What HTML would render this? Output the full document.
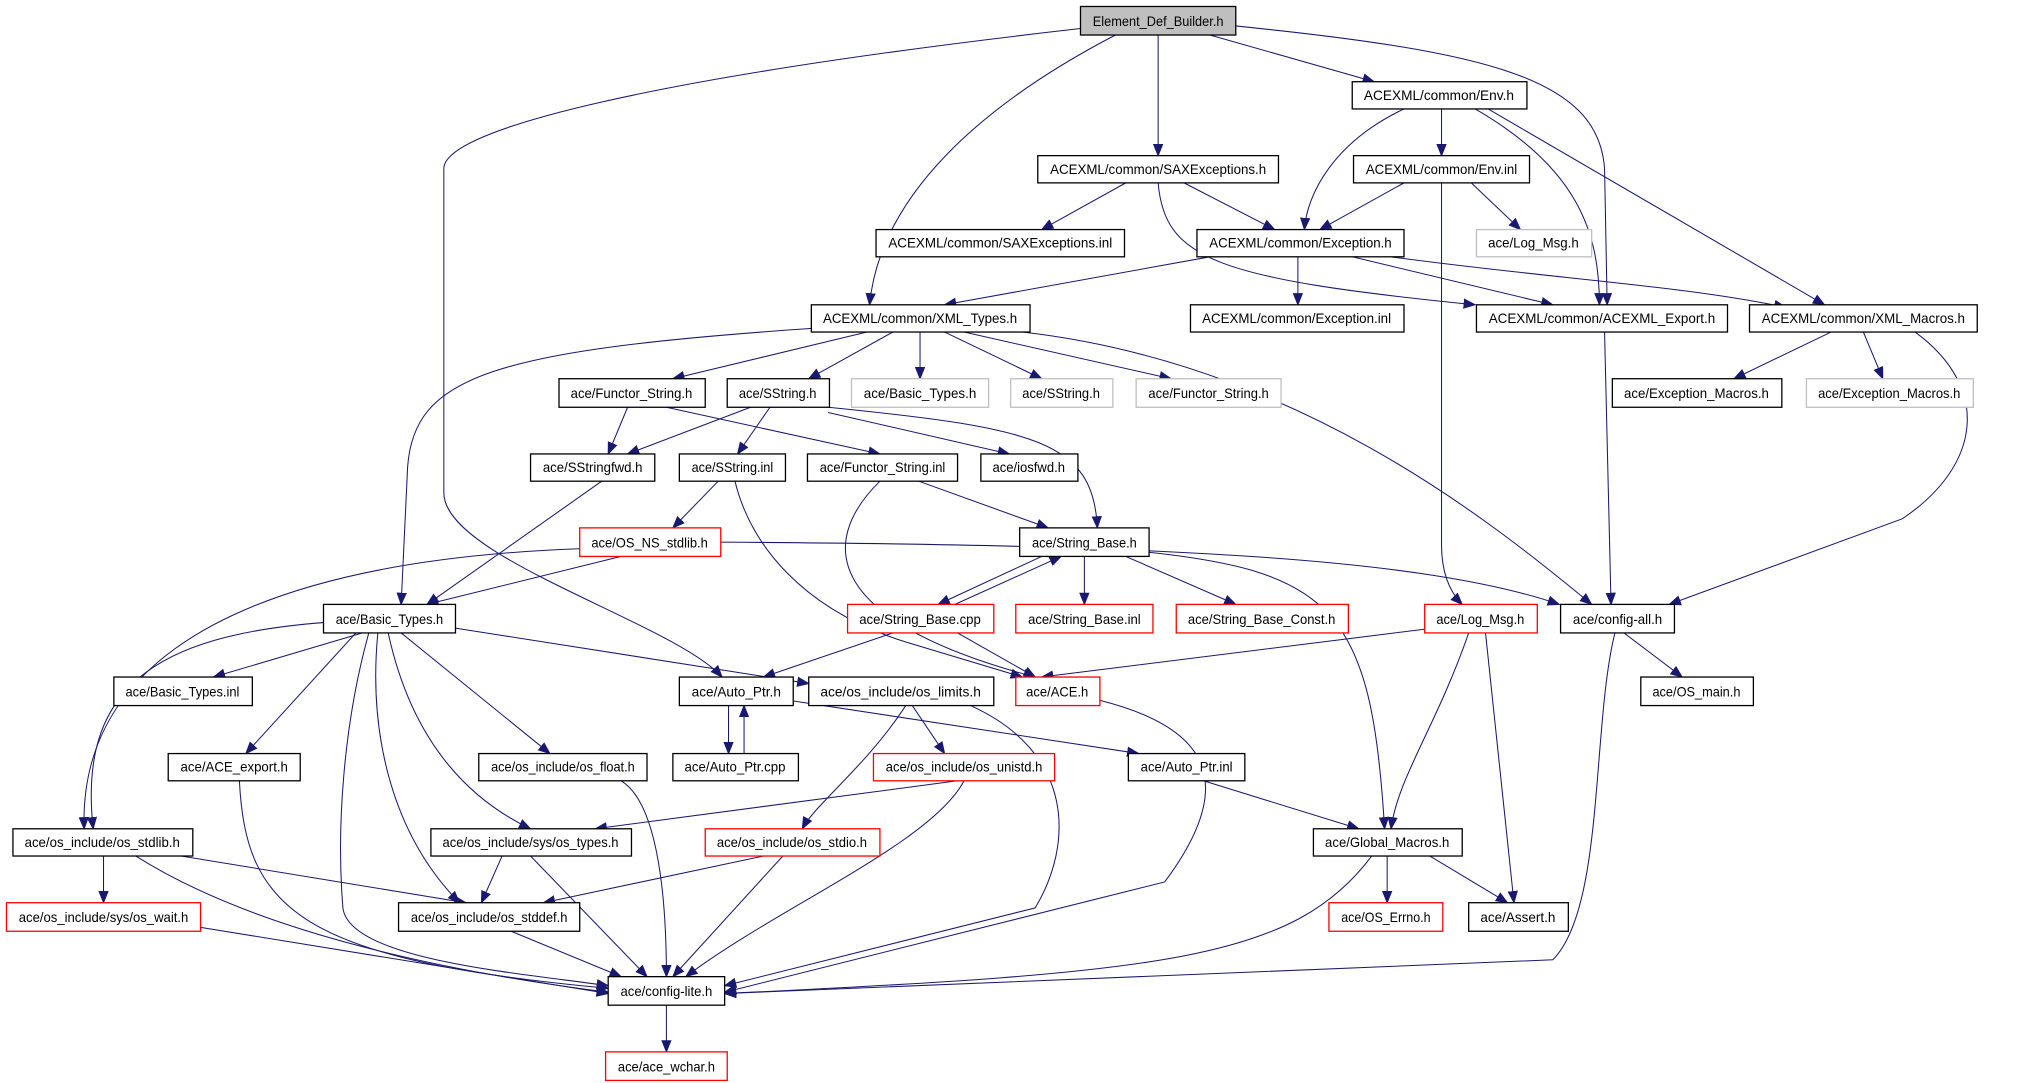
<!DOCTYPE html>
<html><head><meta charset="utf-8"><style>html,body{margin:0;padding:0;background:#fff}svg{display:block}</style></head>
<body>
<svg width="2029" height="1083" viewBox="0 0 1568 835" preserveAspectRatio="none" xmlns="http://www.w3.org/2000/svg">
<defs><marker id="a" markerUnits="userSpaceOnUse" markerWidth="10" markerHeight="8" refX="9" refY="4" orient="auto"><path d="M0,0 L10,4 L0,8 z" fill="#191970"/></marker></defs>
<g fill="none" stroke="#191970" stroke-width="0.8" marker-end="url(#a)">
<path d="M935 27 L1062 63"/><path d="M895 27 L895 120"/>
<path d="M862 27 C760 80 680 150 672 235"/>
<path d="M835 22 C500 60 343 100 343 130 L343 380 C343 430 520 480 558 522"/>
<path d="M955 20 C1150 40 1235 60 1240 130 L1242 235"/>
<path d="M1114 84 L1114 120"/><path d="M1085 84 C1030 110 1010 150 1008 177"/>
<path d="M1140 84 C1220 130 1236 180 1236 235"/><path d="M1150 84 L1410 235"/>
<path d="M870 141 L805 177"/><path d="M915 141 L985 177"/>
<path d="M895 141 C900 200 940 215 1140 235"/>
<path d="M1085 141 L1020 177"/><path d="M1137 141 L1175 177"/>
<path d="M1114 141 L1114 420 Q1114 450 1130 466"/>
<path d="M935 198 L730 235"/><path d="M1003 198 L1003 235"/><path d="M1045 198 L1200 235"/>
<path d="M1075 198 C1200 215 1300 220 1380 237"/>
<path d="M670 256 L520 292"/><path d="M690 256 L625 292"/><path d="M711 256 L711 292"/>
<path d="M730 256 L805 292"/><path d="M745 256 L905 292"/>
<path d="M790 256 C1000 280 1150 400 1230 466"/>
<path d="M630 253 C380 270 320 290 315 360 L310 466"/>
<path d="M1240 256 L1245 466"/>
<path d="M1415 256 L1340 292"/><path d="M1440 256 L1455 292"/>
<path d="M1480 256 C1540 300 1530 360 1470 400 L1290 466"/>
<path d="M485 314 L470 350"/><path d="M515 314 L680 350"/>
<path d="M580 314 L485 350"/><path d="M595 314 L570 350"/><path d="M640 318 L780 350"/>
<path d="M640 314 C800 330 845 340 848 407"/>
<path d="M465 371 L330 466"/>
<path d="M555 371 L520 407"/>
<path d="M568 371 C580 420 620 470 700 495 L790 522"/>
<path d="M710 371 L810 407"/>
<path d="M680 371 C630 420 640 480 800 522"/>
<path d="M480 429 L330 466"/>
<path d="M450 423 C250 430 60 480 65 639"/>
<path d="M557 418 C900 420 1100 430 1205 466"/>
<path d="M805 429 L725 466"/><path d="M738 466 L820 429"/><path d="M838 429 L838 466"/><path d="M870 429 L955 466"/>
<path d="M880 425 C1030 440 1060 470 1070 639"/>
<path d="M690 488 L590 522"/><path d="M740 488 L800 522"/>
<path d="M1110 484 L805 522"/>
<path d="M1135 488 C1110 560 1080 600 1075 639"/><path d="M1148 488 L1170 696"/>
<path d="M1255 488 L1300 522"/>
<path d="M1248 488 C1230 560 1240 700 1200 740 L560 766"/>
<path d="M280 488 L165 522"/><path d="M275 488 L190 581"/><path d="M310 488 L425 581"/>
<path d="M300 488 C320 580 370 620 410 639"/>
<path d="M292 488 C285 560 300 640 355 696"/>
<path d="M285 488 C265 560 260 640 265 700 C270 740 400 750 470 760"/>
<path d="M250 480 C120 490 60 530 72 639"/>
<path d="M350 484 L625 527"/>
<path d="M563 544 L563 581"/><path d="M575 581 L575 544"/><path d="M610 540 L880 581"/>
<path d="M705 544 L730 581"/>
<path d="M700 544 C670 590 630 620 620 639"/>
<path d="M750 544 C830 580 830 650 800 700 L560 760"/>
<path d="M850 540 C930 560 960 600 900 680 L560 765"/>
<path d="M185 602 C190 700 230 740 470 762"/>
<path d="M480 602 C510 620 515 700 515 753"/>
<path d="M740 602 L460 639"/>
<path d="M745 602 C720 650 600 700 530 753"/>
<path d="M930 602 L1050 639"/>
<path d="M80 660 L80 696"/><path d="M140 660 L360 696"/>
<path d="M105 660 C200 720 350 750 470 765"/>
<path d="M388 660 L372 696"/><path d="M410 660 L500 753"/>
<path d="M590 660 L420 696"/><path d="M605 660 L520 753"/>
<path d="M1072 660 L1072 696"/><path d="M1105 660 L1165 696"/>
<path d="M1060 660 C1000 740 900 750 560 766"/>
<path d="M155 715 L470 766"/><path d="M395 718 L480 753"/><path d="M515 775 L515 811"/>
</g>
<g font-family="Liberation Sans, sans-serif" font-size="10.5" text-anchor="middle" stroke-width="1">
<g fill="#fff" stroke="#000">
<rect x="835" y="5" width="120" height="22" fill="#bfbfbf"/>
<rect x="1045" y="63" width="135" height="21"/>
<rect x="802" y="120" width="186" height="21"/>
<rect x="1046" y="120" width="136" height="21"/>
<rect x="677" y="177" width="192" height="21"/>
<rect x="925" y="177" width="160" height="21"/>
<rect x="627" y="235" width="169" height="21"/>
<rect x="920" y="235" width="165" height="21"/>
<rect x="1141" y="235" width="194" height="21"/>
<rect x="1352" y="235" width="176" height="21"/>
<rect x="432" y="292" width="113" height="22"/>
<rect x="562" y="292" width="79" height="22"/>
<rect x="1246" y="292" width="131" height="22"/>
<rect x="410" y="350" width="96" height="21"/>
<rect x="525" y="350" width="82" height="21"/>
<rect x="624" y="350" width="116" height="21"/>
<rect x="758" y="350" width="75" height="21"/>
<rect x="788" y="407" width="100" height="22"/>
<rect x="250" y="466" width="102" height="22"/>
<rect x="1206" y="466" width="88" height="22"/>
<rect x="88" y="522" width="107" height="22"/>
<rect x="525" y="522" width="88" height="22"/>
<rect x="625" y="522" width="143" height="22"/>
<rect x="1268" y="522" width="87" height="22"/>
<rect x="130" y="581" width="102" height="21"/>
<rect x="370" y="581" width="130" height="21"/>
<rect x="520" y="581" width="97" height="21"/>
<rect x="872" y="581" width="90" height="21"/>
<rect x="10" y="639" width="139" height="21"/>
<rect x="333" y="639" width="155" height="21"/>
<rect x="1015" y="639" width="115" height="21"/>
<rect x="308" y="696" width="140" height="22"/>
<rect x="1135" y="696" width="77" height="22"/>
<rect x="470" y="753" width="90" height="22"/>
</g>
<g fill="#fff" stroke="#bfbfbf">
<rect x="1141" y="177" width="89" height="21"/>
<rect x="658" y="292" width="106" height="22"/>
<rect x="781" y="292" width="79" height="22"/>
<rect x="878" y="292" width="112" height="22"/>
<rect x="1396" y="292" width="129" height="22"/>
</g>
<g fill="#fff" stroke="#ff0000">
<rect x="448" y="407" width="109" height="22"/>
<rect x="655" y="466" width="113" height="22"/>
<rect x="785" y="466" width="106" height="22"/>
<rect x="909" y="466" width="133" height="22"/>
<rect x="1101" y="466" width="87" height="22"/>
<rect x="785" y="522" width="65" height="22"/>
<rect x="675" y="581" width="140" height="21"/>
<rect x="545" y="639" width="135" height="21"/>
<rect x="5" y="696" width="150" height="22"/>
<rect x="1027" y="696" width="88" height="22"/>
<rect x="468" y="811" width="94" height="22"/>
</g>
<g fill="#000" lengthAdjust="spacingAndGlyphs">
<text x="895" y="20" textLength="101" lengthAdjust="spacingAndGlyphs">Element_Def_Builder.h</text>
<text x="1112" y="77" textLength="116" lengthAdjust="spacingAndGlyphs">ACEXML/common/Env.h</text>
<text x="895" y="134" textLength="167" lengthAdjust="spacingAndGlyphs">ACEXML/common/SAXExceptions.h</text>
<text x="1114" y="134" textLength="117" lengthAdjust="spacingAndGlyphs">ACEXML/common/Env.inl</text>
<text x="773" y="191" textLength="173" lengthAdjust="spacingAndGlyphs">ACEXML/common/SAXExceptions.inl</text>
<text x="1005" y="191" textLength="141" lengthAdjust="spacingAndGlyphs">ACEXML/common/Exception.h</text>
<text x="1185" y="191" textLength="70" lengthAdjust="spacingAndGlyphs">ace/Log_Msg.h</text>
<text x="711" y="249" textLength="150" lengthAdjust="spacingAndGlyphs">ACEXML/common/XML_Types.h</text>
<text x="1002" y="249" textLength="146" lengthAdjust="spacingAndGlyphs">ACEXML/common/Exception.inl</text>
<text x="1238" y="249" textLength="175" lengthAdjust="spacingAndGlyphs">ACEXML/common/ACEXML_Export.h</text>
<text x="1440" y="249" textLength="157" lengthAdjust="spacingAndGlyphs">ACEXML/common/XML_Macros.h</text>
<text x="488" y="307" textLength="94" lengthAdjust="spacingAndGlyphs">ace/Functor_String.h</text>
<text x="601" y="307" textLength="60" lengthAdjust="spacingAndGlyphs">ace/SString.h</text>
<text x="711" y="307" textLength="87" lengthAdjust="spacingAndGlyphs">ace/Basic_Types.h</text>
<text x="820" y="307" textLength="60" lengthAdjust="spacingAndGlyphs">ace/SString.h</text>
<text x="934" y="307" textLength="93" lengthAdjust="spacingAndGlyphs">ace/Functor_String.h</text>
<text x="1311" y="307" textLength="112" lengthAdjust="spacingAndGlyphs">ace/Exception_Macros.h</text>
<text x="1460" y="307" textLength="110" lengthAdjust="spacingAndGlyphs">ace/Exception_Macros.h</text>
<text x="458" y="364" textLength="77" lengthAdjust="spacingAndGlyphs">ace/SStringfwd.h</text>
<text x="566" y="364" textLength="63" lengthAdjust="spacingAndGlyphs">ace/SString.inl</text>
<text x="682" y="364" textLength="97" lengthAdjust="spacingAndGlyphs">ace/Functor_String.inl</text>
<text x="795" y="364" textLength="56" lengthAdjust="spacingAndGlyphs">ace/iosfwd.h</text>
<text x="502" y="422" textLength="90" lengthAdjust="spacingAndGlyphs">ace/OS_NS_stdlib.h</text>
<text x="838" y="422" textLength="81" lengthAdjust="spacingAndGlyphs">ace/String_Base.h</text>
<text x="301" y="481" textLength="83" lengthAdjust="spacingAndGlyphs">ace/Basic_Types.h</text>
<text x="711" y="481" textLength="94" lengthAdjust="spacingAndGlyphs">ace/String_Base.cpp</text>
<text x="838" y="481" textLength="87" lengthAdjust="spacingAndGlyphs">ace/String_Base.inl</text>
<text x="975" y="481" textLength="114" lengthAdjust="spacingAndGlyphs">ace/String_Base_Const.h</text>
<text x="1144" y="481" textLength="68" lengthAdjust="spacingAndGlyphs">ace/Log_Msg.h</text>
<text x="1250" y="481" textLength="69" lengthAdjust="spacingAndGlyphs">ace/config-all.h</text>
<text x="141" y="537" textLength="88" lengthAdjust="spacingAndGlyphs">ace/Basic_Types.inl</text>
<text x="569" y="537" textLength="69" lengthAdjust="spacingAndGlyphs">ace/Auto_Ptr.h</text>
<text x="696" y="537" textLength="124" lengthAdjust="spacingAndGlyphs">ace/os_include/os_limits.h</text>
<text x="817" y="537" textLength="48" lengthAdjust="spacingAndGlyphs">ace/ACE.h</text>
<text x="1311" y="537" textLength="68" lengthAdjust="spacingAndGlyphs">ace/OS_main.h</text>
<text x="181" y="595" textLength="83" lengthAdjust="spacingAndGlyphs">ace/ACE_export.h</text>
<text x="435" y="595" textLength="111" lengthAdjust="spacingAndGlyphs">ace/os_include/os_float.h</text>
<text x="568" y="595" textLength="78" lengthAdjust="spacingAndGlyphs">ace/Auto_Ptr.cpp</text>
<text x="745" y="595" textLength="121" lengthAdjust="spacingAndGlyphs">ace/os_include/os_unistd.h</text>
<text x="917" y="595" textLength="71" lengthAdjust="spacingAndGlyphs">ace/Auto_Ptr.inl</text>
<text x="79" y="653" textLength="120" lengthAdjust="spacingAndGlyphs">ace/os_include/os_stdlib.h</text>
<text x="410" y="653" textLength="136" lengthAdjust="spacingAndGlyphs">ace/os_include/sys/os_types.h</text>
<text x="612" y="653" textLength="116" lengthAdjust="spacingAndGlyphs">ace/os_include/os_stdio.h</text>
<text x="1072" y="653" textLength="96" lengthAdjust="spacingAndGlyphs">ace/Global_Macros.h</text>
<text x="80" y="711" textLength="131" lengthAdjust="spacingAndGlyphs">ace/os_include/sys/os_wait.h</text>
<text x="378" y="711" textLength="121" lengthAdjust="spacingAndGlyphs">ace/os_include/os_stddef.h</text>
<text x="1071" y="711" textLength="69" lengthAdjust="spacingAndGlyphs">ace/OS_Errno.h</text>
<text x="1173" y="711" textLength="58" lengthAdjust="spacingAndGlyphs">ace/Assert.h</text>
<text x="515" y="768" textLength="71" lengthAdjust="spacingAndGlyphs">ace/config-lite.h</text>
<text x="515" y="826" textLength="75" lengthAdjust="spacingAndGlyphs">ace/ace_wchar.h</text>
</g>
</g>
</svg>
</body></html>
